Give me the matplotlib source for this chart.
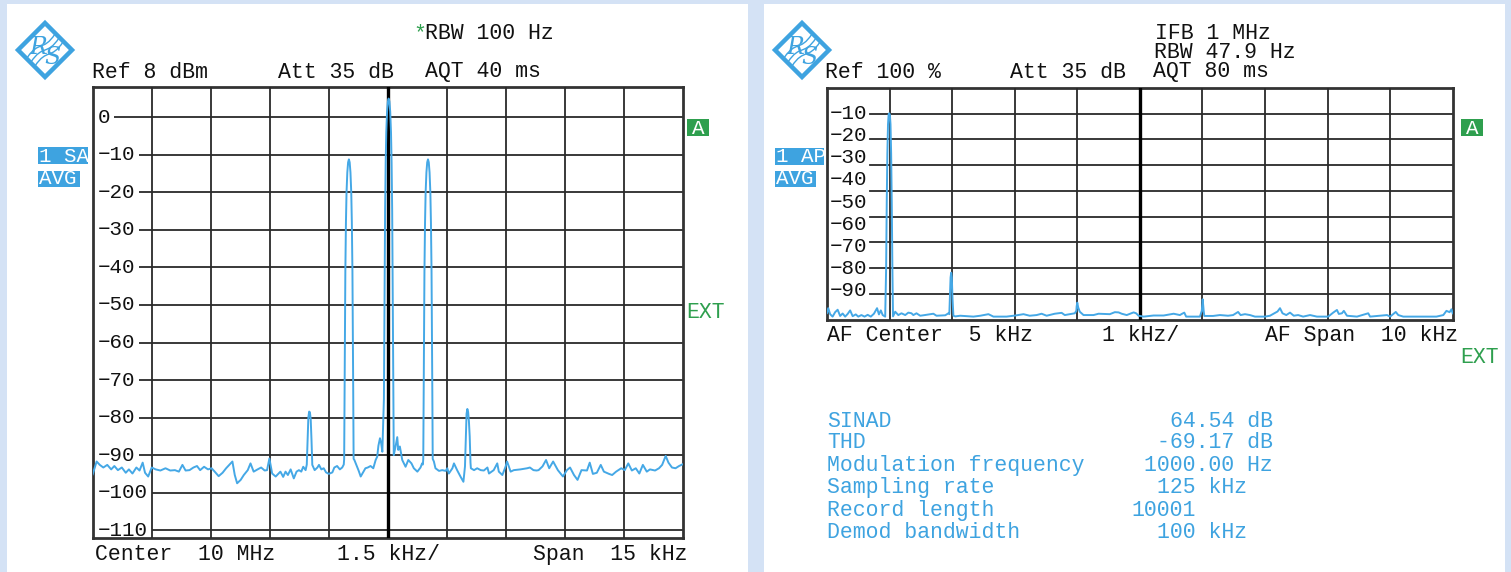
import matplotlib
matplotlib.use('Agg')
import matplotlib.pyplot as plt
from matplotlib.patches import Rectangle, Polygon, PathPatch
from matplotlib.path import Path

W, H = 1511, 572
MONO = ['Liberation Mono', 'DejaVu Sans Mono']
plt.rcParams['font.family'] = MONO

# ---------------- data: left spectrum (offset from 10 MHz in kHz, level in dBm)
left_khz = [-7.50, -7.40, -7.32, -7.23, -7.13, -7.03, -6.95, -6.86, -6.76, -6.66, -6.58, -6.49,
            -6.39, -6.31, -6.23, -6.17, -6.09, -6.00, -5.90, -5.78, -5.65, -5.53, -5.41, -5.31,
            -5.22, -5.14, -5.04, -4.94, -4.85, -4.77, -4.67, -4.57, -4.48, -4.40, -4.30, -4.20,
            -4.11, -4.03, -3.95, -3.89, -3.83, -3.74, -3.66, -3.56, -3.49, -3.41, -3.31, -3.22,
            -3.13, -3.07, -3.01, -2.94, -2.85, -2.76, -2.73, -2.66, -2.60, -2.54, -2.47, -2.39,
            -2.32, -2.26, -2.20, -2.15, -2.09, -2.06,
            -2.04, -2.02, -2.00, -1.98, -1.96, -1.94, -1.92,
            -1.86, -1.79, -1.75, -1.69, -1.63, -1.57, -1.50, -1.41, -1.36, -1.29, -1.22, -1.16, -1.12,
            -1.11, -1.10, -1.09, -1.08, -1.065, -1.05, -1.03, -1.01, -0.99, -0.97, -0.95, -0.93,
            -0.915, -0.90, -0.89, -0.88, -0.87,
            -0.85, -0.80, -0.74, -0.69, -0.63, -0.57, -0.51, -0.44, -0.37, -0.31, -0.27, -0.24,
            -0.20, -0.17, -0.14,
            -0.10, -0.09, -0.08, -0.07, -0.055, -0.04, -0.02, 0.0, 0.02, 0.04, 0.06, 0.08, 0.095,
            0.11, 0.12, 0.13, 0.14, 0.15,
            0.196, 0.239, 0.264, 0.305, 0.366, 0.45, 0.52, 0.60, 0.66, 0.75, 0.83, 0.87, 0.89,
            0.90, 0.91, 0.92, 0.93, 0.945, 0.96, 0.98, 1.00, 1.02, 1.04, 1.06, 1.08, 1.095, 1.11,
            1.12, 1.13, 1.14,
            1.17, 1.21, 1.30, 1.38, 1.47, 1.51, 1.55, 1.64, 1.68, 1.76, 1.85, 1.92, 1.96,
            1.98, 2.00, 2.02, 2.04, 2.06, 2.08, 2.10,
            2.11, 2.19, 2.27, 2.36, 2.44, 2.53, 2.57, 2.69, 2.78, 2.82, 2.91, 2.99, 3.03, 3.12,
            3.20, 3.37, 3.54, 3.61, 3.70, 3.78, 3.83, 3.93, 4.02, 4.10, 4.20, 4.32, 4.45, 4.55,
            4.63, 4.73, 4.82, 4.92, 5.06, 5.13, 5.21, 5.31, 5.41, 5.49, 5.62, 5.70, 5.80, 5.93,
            6.02, 6.11, 6.20, 6.30, 6.39, 6.48, 6.58, 6.66, 6.79, 6.89, 6.97, 7.06, 7.13, 7.22,
            7.31, 7.40, 7.50]
left_dbm = [-95.1, -91.7, -92.6, -93.3, -92.6, -93.8, -92.9, -94.0, -93.3, -94.7, -93.8, -94.9,
            -93.3, -94.1, -92.0, -94.7, -95.7, -93.3, -93.8, -94.1, -93.5, -94.1, -94.0, -94.4,
            -92.6, -94.1, -94.0, -93.3, -92.9, -94.0, -93.1, -93.8, -93.5, -94.4, -95.6, -94.7,
            -93.5, -92.6, -91.7, -95.3, -97.5, -96.6, -95.3, -94.0, -92.2, -94.4, -93.8, -93.3,
            -94.1, -94.0, -90.9, -94.9, -95.7, -94.7, -94.4, -95.8, -94.4, -95.3, -93.8, -96.2,
            -94.4, -94.0, -94.4, -93.1, -94.0, -92.5,
            -86.0, -80.0, -78.4, -78.6, -80.5, -86.0, -92.6,
            -94.0, -93.3, -92.6, -93.8, -93.5, -94.6, -95.0, -94.6, -93.3, -92.9, -93.8, -93.3, -92.5,
            -91.0, -73.0, -56.0, -41.0, -28.0, -20.0, -14.7, -12.0, -11.2, -12.0, -14.7, -20.0,
            -28.0, -41.0, -56.0, -73.0, -91.0,
            -91.3, -92.6, -94.2, -95.7, -94.6, -93.5, -93.3, -92.9, -93.5, -91.3, -90.4, -87.5,
            -85.5, -86.8, -89.1,
            -75.0, -57.0, -40.0, -25.0, -12.0, -4.0, 1.5, 4.2, 5.0, 4.2, 1.5, -4.0, -12.0,
            -25.0, -40.0, -57.0, -75.0, -90.0,
            -87.7, -85.2, -88.6, -87.7, -91.3, -93.1, -91.3, -92.2, -93.5, -94.4, -93.3, -92.2, -92.5,
            -91.0, -73.0, -56.0, -41.0, -28.0, -20.0, -14.7, -12.0, -11.2, -12.0, -14.7, -20.0,
            -28.0, -41.0, -56.0, -73.0, -91.0,
            -91.7, -93.5, -94.2, -94.0, -94.2, -93.5, -94.9, -93.5, -92.2, -94.0, -95.8, -97.1, -93.0,
            -86.0, -79.0, -77.7, -78.5, -81.0, -85.0, -92.0,
            -93.5, -94.0, -93.5, -94.0, -94.1, -93.3, -94.9, -94.0, -92.2, -94.4, -95.3, -93.1,
            -91.7, -94.4, -94.0, -93.8, -93.5, -93.3, -94.0, -94.1, -94.0, -93.0, -91.3, -93.5,
            -91.7, -94.0, -95.7, -94.0, -93.3, -95.3, -96.6, -94.0, -94.1, -92.0, -95.0, -94.7,
            -92.6, -94.4, -95.0, -95.3, -94.4, -93.5, -94.0, -92.2, -94.1, -93.5, -94.9, -92.6,
            -94.4, -93.8, -94.1, -93.5, -92.6, -90.2, -92.0, -93.3, -93.5, -92.9, -92.4]
left_yticks = [0, -10, -20, -30, -40, -50, -60, -70, -80, -90, -100, -110]
left_xgrid = [-6.0, -4.5, -3.0, -1.5, 0.0, 1.5, 3.0, 4.5, 6.0]

# ---------------- data: right AF spectrum (kHz, dB)
right_khz = [0.00, 0.02, 0.05, 0.09, 0.13, 0.17, 0.21, 0.25, 0.29, 0.33, 0.37, 0.41, 0.46, 0.50,
             0.55, 0.60, 0.65, 0.70, 0.75, 0.80, 0.83, 0.86, 0.89, 0.93,
             0.945, 0.955, 0.965, 0.975, 0.985, 0.995, 1.005, 1.015, 1.025, 1.035, 1.045, 1.055,
             1.09, 1.14, 1.19, 1.25, 1.30, 1.35, 1.38, 1.43, 1.49, 1.54, 1.70, 1.75, 1.89, 1.94, 1.955,
             1.965, 1.975, 1.985, 1.995, 2.005, 2.02,
             2.05, 2.13, 2.34, 2.45, 2.58, 2.66, 2.87, 3.01, 3.14, 3.24, 3.35, 3.43, 3.51, 3.64,
             3.75, 3.80, 3.96, 3.985, 3.99, 4.00, 4.015, 4.04, 4.10, 4.26, 4.34, 4.52, 4.60, 4.66,
             4.71, 4.79, 4.90, 4.94, 4.98, 5.06, 5.22, 5.38, 5.54, 5.64, 5.67, 5.71, 5.74, 5.96,
             5.99, 6.004, 6.02, 6.03, 6.17, 6.28, 6.41, 6.49, 6.57, 6.61, 6.68, 6.76, 6.84, 7.00,
             7.08, 7.20, 7.24, 7.28, 7.34, 7.40, 7.46, 7.53, 7.61, 7.72, 7.83, 8.01, 8.09, 8.15,
             8.18, 8.23, 8.26, 8.31, 8.47, 8.65, 8.68, 8.95, 9.00, 9.09, 9.13, 9.21, 9.74, 9.85,
             9.90, 9.95, 9.98, 10.0]
right_db = [-100.0, -97.8, -100.5, -101.6, -99.6, -98.5, -101.3, -100.2, -101.6, -100.4, -98.8,
            -101.4, -100.6, -101.6, -100.9, -101.6, -100.8, -101.6, -100.3, -97.8, -100.6, -98.8,
            -100.9, -101.6,
            -80.0, -50.0, -28.0, -15.0, -10.6, -10.0, -10.6, -15.0, -28.0, -50.0, -80.0, -101.5,
            -99.4, -100.9, -100.1, -100.9, -99.8, -100.1, -100.9, -100.1, -101.2, -101.0, -100.3,
            -101.2, -101.0, -100.1, -100.5,
            -92.0, -84.0, -81.8, -84.0, -93.0, -101.2,
            -101.5, -101.2, -101.6, -101.2, -100.5, -101.6, -101.6, -101.1, -100.5, -101.2, -100.9,
            -100.3, -101.2, -100.3, -99.9, -100.9, -100.1, -99.0, -97.0, -95.3, -97.5, -99.4,
            -100.9, -100.9, -100.3, -100.5, -99.6, -99.7, -100.3, -100.9, -99.7, -100.1, -101.2,
            -101.6, -101.1, -101.1, -100.3, -100.9, -100.4, -99.8, -101.6, -101.6, -99.0, -93.8,
            -99.0, -101.3, -101.3, -100.9, -101.2, -100.9, -99.5, -100.9, -100.5, -100.9, -101.6,
            -101.6, -101.2, -99.3, -97.8, -100.1, -100.9, -99.8, -101.2, -100.9, -101.6, -100.9,
            -101.6, -101.6, -99.8, -98.6, -100.4, -100.1, -99.0, -101.2, -101.6, -100.1, -101.6,
            -100.9, -101.6, -99.5, -100.9, -101.6, -101.6, -100.9, -99.0, -99.6, -98.3, -100.1]
right_yticks = [-10, -20, -30, -40, -50, -60, -70, -80, -90]
right_xgrid = [1, 2, 3, 4, 5, 6, 7, 8, 9]

stats_labels = ['SINAD', 'THD', 'Modulation frequency', 'Sampling rate', 'Record length',
                'Demod bandwidth']
stats_values = ['64.54 dB', '-69.17 dB', '1000.00 Hz', '125 kHz', '10001', '100 kHz']

# ---------------- styling
BG = '#d4e2f5'
TRACE = '#45a8e6'
TAG = '#3ea3e0'
GREEN = '#2e9f4e'
GRID = '#2a2a2a'
FS = 15.5

fig = plt.figure(figsize=(W / 100, H / 100), dpi=100)
fig.patch.set_facecolor(BG)
bg = fig.add_axes([0, 0, 1, 1], zorder=0)
bg.set_xlim(0, W)
bg.set_ylim(H, 0)
bg.axis('off')
bg.add_patch(Rectangle((7, 4), 741, 570, fc='white', ec='none'))
bg.add_patch(Rectangle((764, 4), 741, 570, fc='white', ec='none'))


def txt(x, y, s, color='#111111', fs=FS, **kw):
    bg.text(x, y, s, fontsize=fs, color=color, va='baseline', ha='left', **kw)


def logo(cx, cy):
    r = 27
    bg.add_patch(Polygon([(cx, cy - r), (cx + r, cy), (cx, cy + r), (cx - r, cy)],
                         closed=True, fc='none', ec=TAG, lw=3.2))
    bg.text(cx - 7, cy - 3, 'R', fontsize=17, color=TAG, family='DejaVu Serif',
            style='italic', ha='center', va='center')
    bg.text(cx + 7, cy + 8, 'S', fontsize=17, color=TAG, family='DejaVu Serif',
            style='italic', ha='center', va='center')
    for d in (-4, 0, 4):
        verts = [(cx - 14 + d, cy + 12 + d), (cx - 2 + d, cy - 6 + d), (cx + 2 + d, cy + 6 + d),
                 (cx + 14 + d, cy - 12 + d)]
        codes = [Path.MOVETO, Path.CURVE4, Path.CURVE4, Path.CURVE4]
        bg.add_patch(PathPatch(Path(verts, codes), fc='none', ec=TAG, lw=1.0))


def tag(x, y, w, h, s, color):
    bg.add_patch(Rectangle((x, y), w, h, fc=color, ec='none'))
    bg.text(x + 1, y + h - 2.5, s, fontsize=15, color='white', va='baseline', ha='left')


# ---------------- left panel texts
logo(45, 50)
txt(413, 39, '*', color=GREEN)
txt(425, 39, 'RBW 100 Hz')
txt(92, 78, 'Ref 8 dBm')
txt(278, 78, 'Att 35 dB')
txt(425, 77, 'AQT 40 ms')
tag(38, 147, 50, 17, '1 SA', TAG)
tag(38, 171, 42, 16, 'AVG', TAG)
bg.add_patch(Rectangle((687, 119), 22, 17, fc=GREEN, ec='none'))
bg.text(698, 128, 'A', fontsize=15, color='white', ha='center', va='center')
txt(686, 318, 'EXT', color=GREEN)
txt(95, 560, 'Center  10 MHz')
txt(337, 560, '1.5 kHz/')
txt(533, 560, 'Span  15 kHz')

# ---------------- right panel texts
logo(802, 50)
txt(1155, 39, 'IFB 1 MHz')
txt(1154, 58, 'RBW 47.9 Hz')
txt(1153, 77, 'AQT 80 ms')
txt(825, 78, 'Ref 100 %')
txt(1010, 78, 'Att 35 dB')
tag(775, 148, 49, 17, '1 AP', TAG)
tag(775, 171, 41, 16, 'AVG', TAG)
bg.add_patch(Rectangle((1461, 119), 22, 17, fc=GREEN, ec='none'))
bg.text(1472, 128, 'A', fontsize=15, color='white', ha='center', va='center')
txt(1460, 363, 'EXT', color=GREEN)
txt(827, 341, 'AF Center  5 kHz')
txt(1102, 341, '1 kHz/')
txt(1265, 341, 'AF Span  10 kHz')

stat_y = [427, 448, 471, 493, 516, 538]
stat_vx = [1170, 1157, 1144, 1157, 1131, 1157]
for lab, val, y, vx in zip(stats_labels, stats_values, stat_y, stat_vx):
    txt(827, y, lab, color=TAG)
    txt(vx, y, val, color=TAG)

# ---------------- left spectrum axes
axL = fig.add_axes([92.7 / W, (H - 537.7) / H, 590.3 / W, 450.4 / H], zorder=2)
axL.set_xlim(-7.5, 7.5)
axL.set_ylim(-112, 8)
axL.set_xticks([])
axL.set_yticks([])
for v in left_yticks:
    axL.axhline(v, color=GRID, lw=1.3, zorder=1)
    axL.text(0.009, v, str(v).replace('-', '\u2212'), transform=axL.get_yaxis_transform(),
             fontsize=15, va='center', ha='left', color='#111111', zorder=2,
             bbox=dict(boxstyle='square,pad=0.18', fc='white', ec='none'))
for v in left_xgrid:
    axL.axvline(v, color='#000000' if v == 0 else GRID, lw=2.4 if v == 0 else 1.3, zorder=3)
axL.plot(left_khz, left_dbm, color=TRACE, lw=1.4, zorder=4)
for sp in axL.spines.values():
    sp.set_linewidth(2)
    sp.set_color('#333333')

# ---------------- right spectrum axes
axR = fig.add_axes([827 / W, (H - 319.5) / H, 625.7 / W, 231.5 / H], zorder=2)
lo, hi = -102.9, 1.4
axR.set_xlim(0, 10)
axR.set_ylim(lo, hi)
axR.set_xticks([])
axR.set_yticks([])
for i in range(1, 9):
    axR.axhline(lo + (hi - lo) * i / 9, xmin=0.0687, color=GRID, lw=1.3, zorder=1)
for v in right_yticks:
    axR.text(0.005, v, str(v).replace('-', '\u2212'), transform=axR.get_yaxis_transform(),
             fontsize=15, va='center', ha='left', color='#111111', zorder=2)
for v in right_xgrid:
    axR.axvline(v, color='#000000' if v == 5 else GRID, lw=2.4 if v == 5 else 1.3, zorder=3)
axR.plot(right_khz, right_db, color=TRACE, lw=1.4, zorder=4)
for sp in axR.spines.values():
    sp.set_linewidth(2)
    sp.set_color('#333333')

fig.savefig('out.png', dpi=100, facecolor=BG)
